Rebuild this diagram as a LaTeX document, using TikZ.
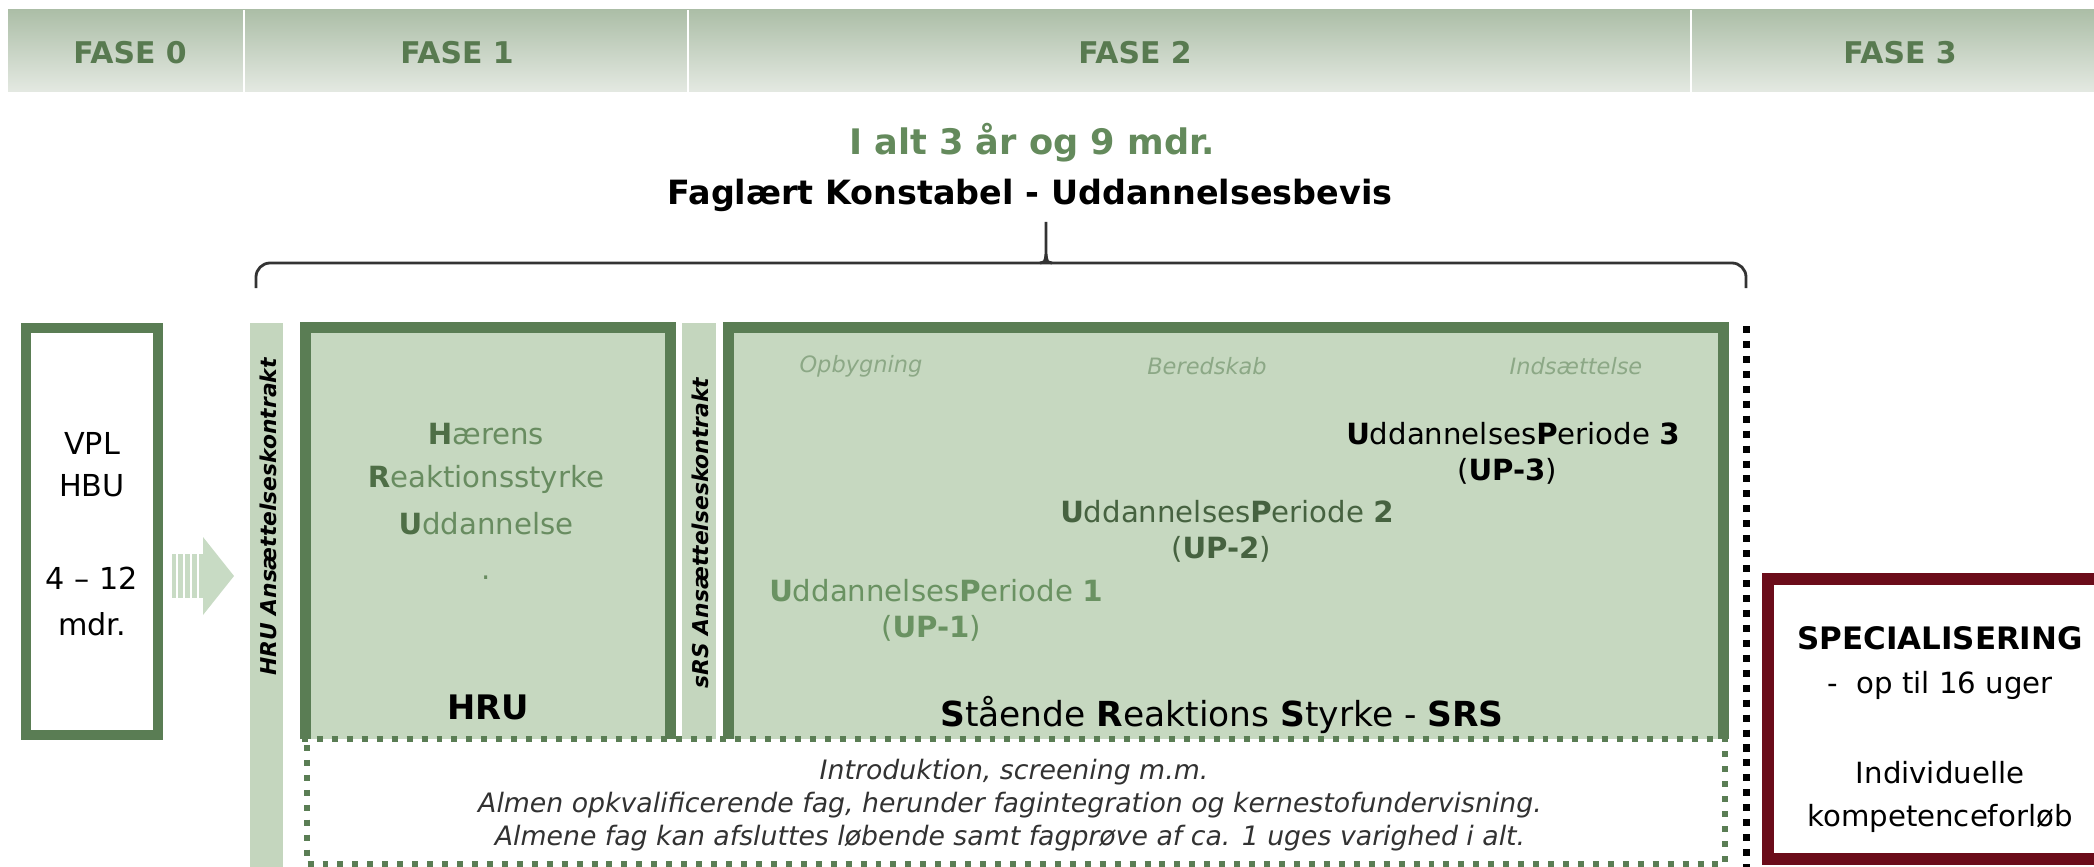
\documentclass[tikz,border=0pt]{standalone}
\usepackage{fontspec}
\setmainfont{DejaVu Sans}
\definecolor{HeadTop}{RGB}{172,190,167}
\definecolor{HeadBottom}{RGB}{228,233,226}
\definecolor{FaseGreen}{RGB}{88,122,80}
\definecolor{GreenDark}{RGB}{90,125,84}
\definecolor{GreenFill}{RGB}{198,216,192}
\definecolor{GreenBar}{RGB}{196,214,190}
\definecolor{ArrowFill}{RGB}{200,219,196}
\definecolor{HruText}{RGB}{104,140,96}
\definecolor{HruDark}{RGB}{78,110,70}
\definecolor{PhaseText}{RGB}{140,168,134}
\definecolor{UpOne}{RGB}{106,146,98}
\definecolor{UpTwo}{RGB}{70,98,64}
\definecolor{AltGreen}{RGB}{100,138,92}
\definecolor{SpecRed}{RGB}{107,12,26}
\definecolor{NoteGray}{RGB}{50,50,50}

\begin{document}
\begin{tikzpicture}[x=0.01cm,y=-0.01cm]
		\tikzstyle{FaseStyle}     = [font=\fontsize{8.5}{10}\selectfont\bfseries, text=FaseGreen]
		\tikzstyle{TextStyle}     = [font=\fontsize{8.3}{10}\selectfont, inner sep=0pt]
		\tikzstyle{LabelStyle}    = [font=\fontsize{9.8}{11}\selectfont, inner sep=0pt]
		\tikzstyle{PhaseStyle}    = [font=\fontsize{6.4}{8}\selectfont\itshape, text=PhaseText, inner sep=0pt]
		\tikzstyle{NoteStyle}     = [font=\fontsize{7.6}{9}\selectfont\itshape, text=NoteGray, inner sep=0pt]
		\tikzstyle{KontraktStyle} = [font=\fontsize{6.2}{7}\selectfont\bfseries\itshape, rotate=90, inner sep=0pt]
		\tikzstyle{GreenBorder}   = [draw=GreenDark, line width=3.1pt]
		\tikzstyle{GreenDots}     = [draw=GreenDark, line width=1.7pt, dash pattern=on 1.7pt off 2.55pt]
		\tikzstyle{BlackDots}     = [draw=black, line width=2pt, dash pattern=on 2pt off 2.25pt]

		\clip (0,0) rectangle (2094,867);
		\fill[white] (0,0) rectangle (2094,867);

		\shade[top color=HeadTop, bottom color=HeadBottom] (8,10) rectangle (2094,92);
		\foreach \x in {244,688,1691} \draw[white, line width=0.8pt] (\x,10) -- (\x,92);
		\node[FaseStyle] (fase0) at (130,53) {FASE 0};
		\node[FaseStyle] (fase1) at (457,53) {FASE 1};
		\node[FaseStyle] (fase2) at (1135,53) {FASE 2};
		\node[FaseStyle] (fase3) at (1900,53) {FASE 3};

		\node[font=\fontsize{10}{12}\selectfont\bfseries, text=AltGreen] (alt) at (1032,143) {I alt 3 år og 9 mdr.};
		\node[font=\fontsize{9.5}{11}\selectfont\bfseries] (bevis) at (1030,195) {Faglært Konstabel - Uddannelsesbevis};
		\draw[black!80, line width=0.8pt, rounded corners=4pt] (256,288) |- (1746,263) -- (1746,288);
		\draw[black!80, line width=0.8pt] (1040,263) .. controls (1045,262) .. (1046,254) -- (1046,222);
		\draw[black!80, line width=0.8pt] (1052,263) .. controls (1047,262) .. (1046,254);

		\draw[GreenBorder, fill=white] (26,328) rectangle (158,735);
		\node[TextStyle, font=\fontsize{8.6}{10}\selectfont] (vpl) at (92,443) {VPL};
		\node[TextStyle, font=\fontsize{8.6}{10}\selectfont] (hbu) at (92,486) {HBU};
		\node[TextStyle, font=\fontsize{8.6}{10}\selectfont] (mdr) at (92,578) {4 – 12};
		\node[TextStyle, font=\fontsize{8.6}{10}\selectfont] (mdrb) at (92,624) {mdr.};

		\fill[ArrowFill] (172,554) rectangle (205,598);
		\foreach \x in {177,184,191,198} \draw[white, line width=0.5pt] (\x,554) -- (\x,598);
		\fill[ArrowFill] (203,537) -- (234,576) -- (203,615) -- cycle;

		\fill[GreenBar] (250,323) rectangle (283,867);
		\fill[GreenBar] (682,323) rectangle (716,739);
		\fill[GreenFill] (300,322) rectangle (676,739);
		\fill[GreenFill] (723,322) rectangle (1729,739);
		\draw[GreenBorder] (305.5,739) -- (305.5,327.5) -- (670.5,327.5) -- (670.5,739);
		\draw[GreenBorder] (728.5,739) -- (728.5,327.5) -- (1723.5,327.5) -- (1723.5,739);
		\draw[GreenDots] (302,739) -- (1729,739);
		\draw[GreenDots] (307,745) -- (307,864) -- (1725,864) -- (1725,745);
		\draw[BlackDots] (1746,326) -- (1746,867);

		\node[KontraktStyle] (hrukon) at (268,517) {HRU Ansættelseskontrakt};
		\node[KontraktStyle] (srskon) at (700,533) {sRS Ansættelseskontrakt};

		\node[TextStyle, text=HruText] (hru1) at (486,434) {\textcolor{HruDark}{\textbf{H}}ærens};
		\node[TextStyle, text=HruText] (hru2) at (486,479) {\textcolor{HruDark}{\textbf{R}}eaktionsstyrke};
		\node[TextStyle, text=HruText] (hru3) at (486,524) {\textcolor{HruDark}{\textbf{U}}ddannelse};
		\node[TextStyle, text=HruText] (hru4) at (486,578) {.};
		\node[LabelStyle, font=\fontsize{9.6}{11}\selectfont\bfseries] (hru) at (488,707) {HRU};

		\node[PhaseStyle] (opb) at (861,366) {Opbygning};
		\node[PhaseStyle] (ber) at (1207,366) {Beredskab};
		\node[PhaseStyle] (ind) at (1576,366) {Indsættelse};
		\node[TextStyle] (up3) at (1513,434) {\textbf{U}ddannelses\textbf{P}eriode \textbf{3}};
		\node[TextStyle] (up3b) at (1507,471) {(\textbf{UP-3})};
		\node[TextStyle, text=UpTwo] (up2) at (1227,512) {\textbf{U}ddannelses\textbf{P}eriode \textbf{2}};
		\node[TextStyle, text=UpTwo] (up2b) at (1221,549) {(\textbf{UP-2})};
		\node[TextStyle, text=UpOne] (up1) at (936,591) {\textbf{U}ddannelses\textbf{P}eriode \textbf{1}};
		\node[TextStyle, text=UpOne] (up1b) at (931,628) {(\textbf{UP-1})};
		\node[LabelStyle] (srs) at (1222,715) {\textbf{S}tående \textbf{R}eaktions \textbf{S}tyrke - \textbf{SRS}};

		\node[NoteStyle] (note1) at (1014,772) {Introduktion, screening m.m.};
		\node[NoteStyle] (note2) at (1010,805) {Almen opkvalificerende fag, herunder fagintegration og kernestofundervisning.};
		\node[NoteStyle] (note3) at (1010,838) {Almene fag kan afsluttes løbende samt fagprøve af ca. 1 uges varighed i alt.};

		\draw[draw=SpecRed, line width=3.4pt, fill=white] (1768,579) rectangle (2120,859);
		\node[TextStyle, font=\fontsize{8.8}{10}\selectfont\bfseries] (spec) at (1940,638) {SPECIALISERING};
		\node[TextStyle] (uger) at (1940,685) {-~~op til 16 uger};
		\node[TextStyle] (indiv) at (1940,773) {Individuelle};
		\node[TextStyle] (komp) at (1940,818) {kompetenceforløb};
	\end{tikzpicture}
\end{document}
